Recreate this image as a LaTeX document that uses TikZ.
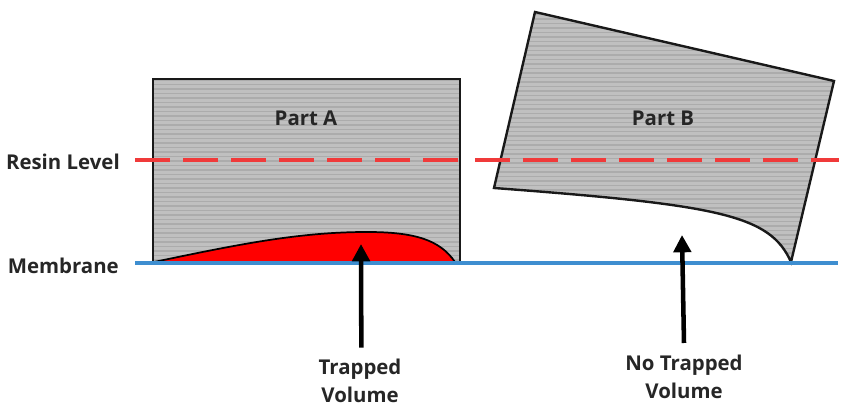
\documentclass[tikz,border=0pt]{standalone}
\usepackage{fontspec}
\setmainfont{Open Sans}
\usetikzlibrary{arrows.meta}
\definecolor{resinred}{RGB}{240,58,58}
\definecolor{membraneblue}{RGB}{62,142,208}
\definecolor{partgray}{RGB}{192,192,192}
\definecolor{stripegray}{RGB}{172,172,172}
\tikzset{
  lbl/.style={font=\bfseries\fontsize{15.3}{20.5}\selectfont, text=black!85, align=center, inner sep=0pt},
  outline/.style={draw=black!90, line width=1.8pt, line join=miter},
  resinline/.style={draw=resinred, line width=2.8pt, dash pattern=on 26.25pt off 9.75pt},
  membraneline/.style={draw=membraneblue, line width=3.4pt},
  uparrow/.style={draw=black, line width=3.4pt, -{Triangle[length=13pt,width=13pt]}}
}
\begin{document}
\begin{tikzpicture}[x=0.75pt,y=-0.75pt]
\useasboundingbox (0,0) rectangle (854,416);
\coordinate (A1) at (153,79);
\coordinate (A2) at (460,79);
\coordinate (A3) at (460,263);
\coordinate (A4) at (153,263);
\coordinate (B1) at (535,12);
\coordinate (B2) at (834,81);
\coordinate (B3) at (791,262);
\coordinate (B4) at (494,188);
\coordinate (R1) at (135,160);
\coordinate (R2) at (462,160);
\coordinate (R3) at (475,160);
\coordinate (R4) at (839,160);
\coordinate (M1) at (135,263);
\coordinate (M2) at (838,263);
\coordinate (tipA) at (361,244);
\coordinate (tipB) at (682,235);

\fill[partgray] (A1) -- (A2) -- (A3) -- (A4) -- cycle;
\begin{scope}
\clip (A1) -- (A2) -- (A3) -- (A4) -- cycle;
\foreach \y in {80,84.5,...,264} {\draw[stripegray, line width=0.8pt] (150,\y) -- (465,\y);}
\end{scope}
\draw[outline] (A1) -- (A2) -- (A3) -- (A4) -- cycle;
\fill[red, draw=black, line width=1.3pt] (154,262) .. controls (240,244) and (300,232) .. (367,232) .. controls (415,232) and (440,240) .. (455,262) -- cycle;

\path[fill=partgray] (B1) -- (B2) -- (B3) .. controls (770,215) and (720,205) .. (494,188) -- cycle;
\begin{scope}
\clip (B1) -- (B2) -- (B3) .. controls (770,215) and (720,205) .. (494,188) -- cycle;
\foreach \y in {10,14.5,...,265} {\draw[stripegray, line width=0.8pt] (490,\y) -- (840,\y);}
\end{scope}
\draw[outline] (B1) -- (B2) -- (B3) .. controls (770,215) and (720,205) .. (B4) -- cycle;

\draw[resinline] (R1) -- (R2);
\draw[resinline] (R3) -- (R4);
\draw[membraneline] (M1) -- (M2);

\node[lbl] (partA) at (306,118) {Part A};
\node[lbl] (partB) at (663,118) {Part B};
\node[lbl, anchor=east] (resin) at (120,162) {Resin Level};
\node[lbl, anchor=east] (membrane) at (119,266) {Membrane};
\node[lbl, anchor=north] (trapped) at (360,359) {Trapped\\Volume};
\node[lbl, anchor=north] (notrapped) at (684,355) {No Trapped\\Volume};

\draw[uparrow] ([xshift=1pt,yshift=8.5pt]trapped.north) -- (tipA);
\draw[uparrow] ([yshift=9pt]notrapped.north) -- (tipB);
\end{tikzpicture}
\end{document}
